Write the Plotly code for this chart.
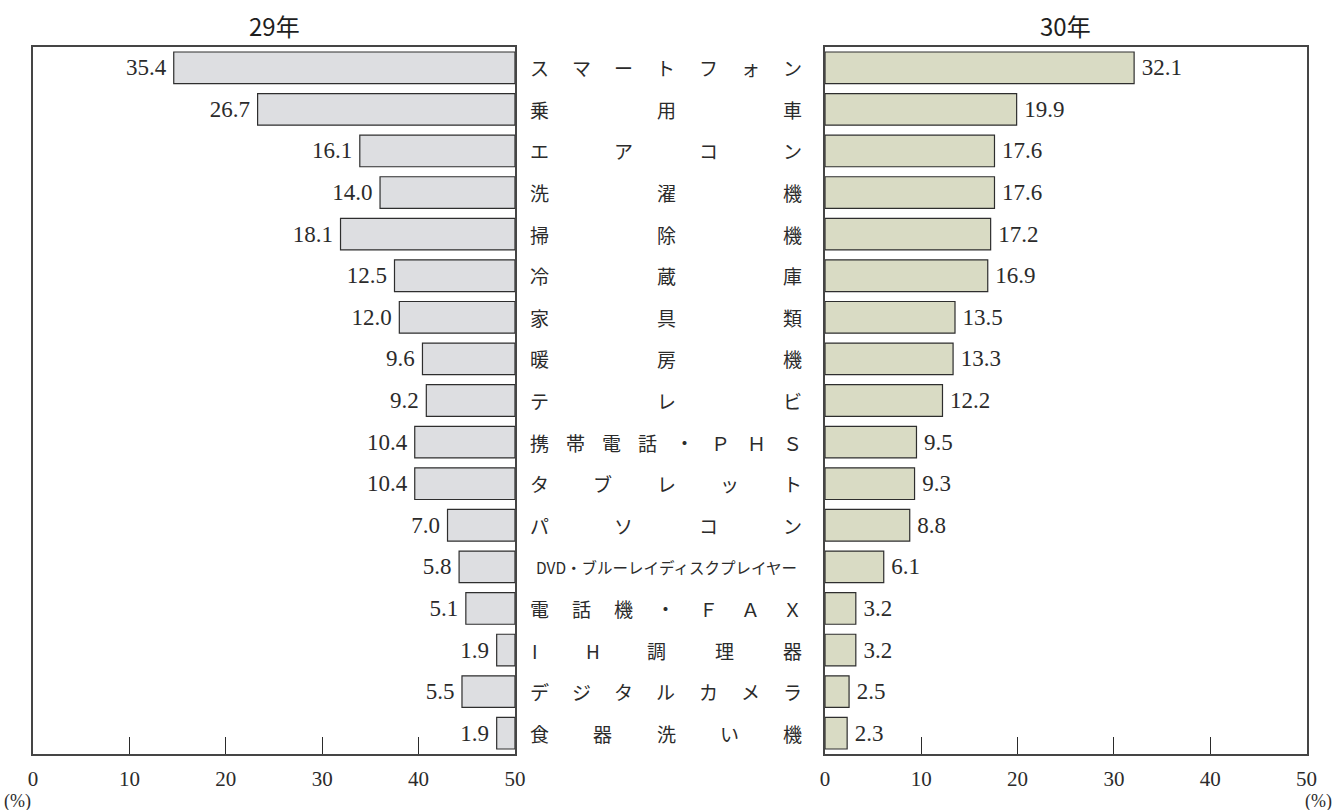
import plotly.graph_objects as go

# ---------------- data ----------------
categories = [
    "スマートフォン", "乗用車", "エアコン", "洗濯機", "掃除機", "冷蔵庫",
    "家具類", "暖房機", "テレビ", "携帯電話・ＰＨＳ", "タブレット", "パソコン",
    "DVD・ブルーレイディスクプレイヤー", "電話機・ＦＡＸ", "IH調理器",
    "デジタルカメラ", "食器洗い機",
]
values_h29 = [35.4, 26.7, 16.1, 14.0, 18.1, 12.5, 12.0, 9.6, 9.2, 10.4, 10.4,
              7.0, 5.8, 5.1, 1.9, 5.5, 1.9]
values_h30 = [32.1, 19.9, 17.6, 17.6, 17.2, 16.9, 13.5, 13.3, 12.2, 9.5, 9.3,
              8.8, 6.1, 3.2, 3.2, 2.5, 2.3]
panel_titles = ["29年", "30年"]
tick_values = [0, 10, 20, 30, 40, 50]
tick_labels = ["0", "10", "20", "30", "40", "50"]
unit_label = "(%)"

# ---------------- layout geometry ----------------
W, H = 1334, 810


def px(x):
    return x / W


def py(y):
    return 1 - y / H


left_dom = [px(33), px(515)]
right_dom = [px(825), px(1306.5)]
y_dom = [py(754), py(47)]

INK = "#2b2b2b"
LINE = "#454545"
SERIF = "Liberation Serif, DejaVu Serif, serif"
CJK = "Noto Sans CJK JP, sans-serif"
SP = "\u2009"

fig = go.Figure()

fig.add_trace(go.Bar(
    x=values_h29, y=categories, orientation="h", xaxis="x", yaxis="y",
    width=0.76,
    marker=dict(color="#dddee1", line=dict(color="#2e2e2e", width=1.2)),
    texttemplate="%{x:.1f}" + SP, textposition="outside", constraintext="none",
    textfont=dict(family=SERIF, size=23, color=INK), cliponaxis=False,
    hoverinfo="skip", showlegend=False,
))
fig.add_trace(go.Bar(
    x=values_h30, y=categories, orientation="h", xaxis="x2", yaxis="y2",
    width=0.76,
    marker=dict(color="#d9dbc4", line=dict(color="#2e2e2e", width=1.2)),
    texttemplate=SP + "%{x:.1f}", textposition="outside", constraintext="none",
    textfont=dict(family=SERIF, size=23, color=INK), cliponaxis=False,
    hoverinfo="skip", showlegend=False,
))

xcommon = dict(
    showline=True, mirror=True, linecolor=LINE, linewidth=1.5,
    showgrid=False, zeroline=False, ticks="inside", ticklen=17,
    tickwidth=1.2, tickcolor=INK, ticklabelstandoff=5,
    tickfont=dict(family=SERIF, size=21, color=INK), fixedrange=True,
)
ycommon = dict(
    showline=True, mirror=True, linecolor=LINE, linewidth=1.5,
    showgrid=False, zeroline=False, showticklabels=False, ticks="",
    categoryorder="array", categoryarray=categories, autorange="reversed",
    domain=y_dom, fixedrange=True,
)

fig.update_layout(
    width=W, height=H,
    margin=dict(l=0, r=0, t=0, b=0, autoexpand=False),
    paper_bgcolor="white", plot_bgcolor="white",
    bargap=0.2,
    xaxis=dict(domain=left_dom, range=[50, 0], anchor="y",
               tickvals=tick_values, ticktext=tick_labels[::-1], **xcommon),
    yaxis=dict(anchor="x", **ycommon),
    xaxis2=dict(domain=right_dom, range=[0, 50], anchor="y2",
                tickvals=tick_values, ticktext=tick_labels, **xcommon),
    yaxis2=dict(anchor="x2", **ycommon),
)

annotations = []
# panel titles
for title, dom in zip(panel_titles, [left_dom, right_dom]):
    annotations.append(dict(
        text=title, x=(dom[0] + dom[1]) / 2, y=py(25), xref="paper", yref="paper",
        xanchor="center", yanchor="middle", showarrow=False,
        font=dict(family=CJK, size=24, color="#1e1e1e"),
    ))
# unit labels
annotations.append(dict(text=unit_label, x=px(17), y=py(801), xref="paper",
                        yref="paper", xanchor="center", yanchor="middle",
                        showarrow=False, font=dict(family=SERIF, size=18, color=INK)))
annotations.append(dict(text=unit_label, x=px(1318), y=py(801), xref="paper",
                        yref="paper", xanchor="center", yanchor="middle",
                        showarrow=False, font=dict(family=SERIF, size=18, color=INK)))

# justified category labels in the centre column
LEFT_EDGE, RIGHT_EDGE, EM = 530, 802, 19


def char_width(c):
    return 0.5 * EM if ord(c) < 0x2000 else EM


for cat in categories:
    if len(cat) > 10:
        annotations.append(dict(
            text=cat, x=px((LEFT_EDGE + RIGHT_EDGE) / 2), y=cat,
            xref="paper", yref="y", xanchor="center", yanchor="middle",
            showarrow=False, font=dict(family=CJK, size=15.5, color=INK),
        ))
        continue
    widths = [char_width(c) for c in cat]
    gap = (RIGHT_EDGE - LEFT_EDGE - sum(widths)) / (len(cat) - 1)
    pos = LEFT_EDGE
    for c, w in zip(cat, widths):
        annotations.append(dict(
            text=c, x=px(pos + w / 2), y=cat, xref="paper", yref="y",
            xanchor="center", yanchor="middle", showarrow=False,
            font=dict(family=CJK, size=EM, color=INK),
        ))
        pos += w + gap

fig.update_layout(annotations=annotations)

fig.write_html("out.html")
